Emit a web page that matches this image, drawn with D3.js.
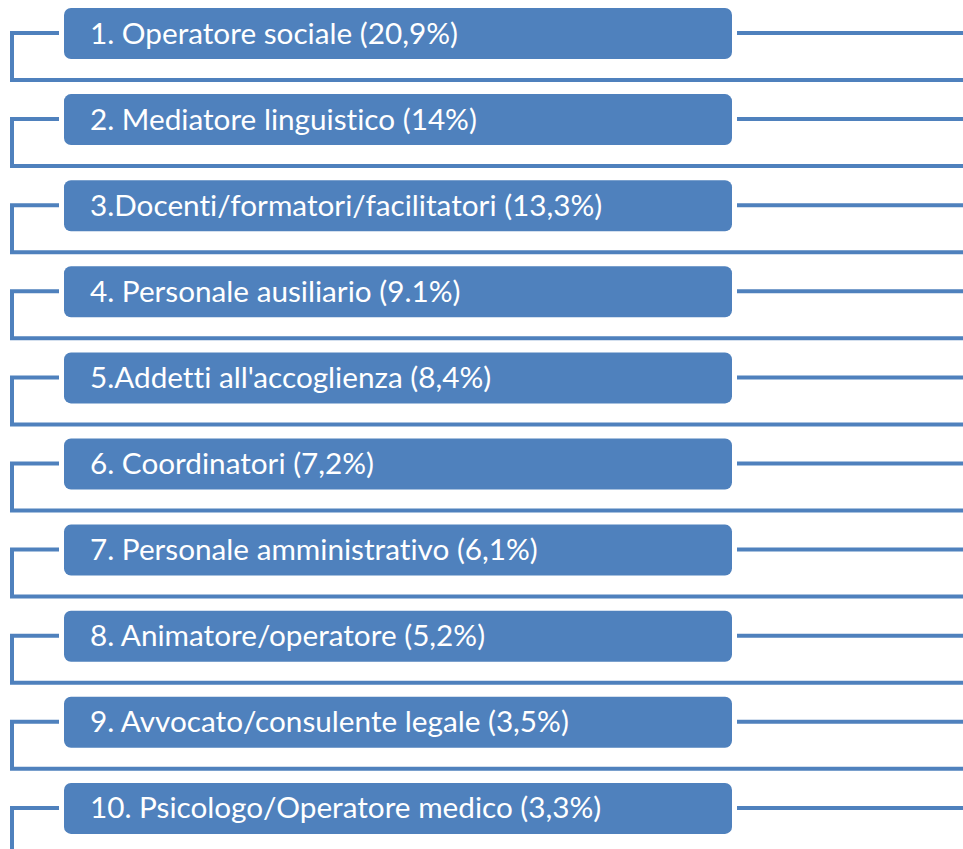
<!DOCTYPE html>
<html><head><meta charset="utf-8">
<script src="https://cdn.jsdelivr.net/npm/d3@7"></script>
<style>html,body{margin:0;padding:0;background:#fff;}svg{display:block;}</style>
</head><body>
<svg id="c" width="963" height="849"></svg>
<script>
const labels = [
  "1. Operatore sociale (20,9%)",
  "2. Mediatore linguistico (14%)",
  "3.Docenti/formatori/facilitatori (13,3%)",
  "4. Personale ausiliario (9.1%)",
  "5.Addetti all'accoglienza (8,4%)",
  "6. Coordinatori (7,2%)",
  "7. Personale amministrativo (6,1%)",
  "8. Animatore/operatore (5,2%)",
  "9. Avvocato/consulente legale (3,5%)",
  "10. Psicologo/Operatore medico (3,3%)"
];
const values = [20.9, 14, 13.3, 9.1, 8.4, 7.2, 6.1, 5.2, 3.5, 3.3];

const W = 963, H = 849, color = "#4F81BD";
const svg = d3.select("#c");
const idx = d3.range(labels.length);
const y = d3.scaleLinear().domain([0, labels.length]).range([8, 8 + 86.1 * labels.length]);
const x = d3.scaleLinear().domain([0, 1]).range([64, 732]);
const boxH = 51, sw = 4;

const g = svg.selectAll("g.row").data(idx).join("g").attr("class", "row");

// left bracket
g.append("path")
  .attr("d", i => {
    const mid = y(i) + 25;
    const bot = i < labels.length - 1 ? y(i) + 72 : H + 5;
    let p = `M${x(0) - 5},${mid} H12 V${bot}`;
    if (i < labels.length - 1) p += ` H${W + 5}`;
    return p;
  })
  .attr("fill", "none").attr("stroke", color).attr("stroke-width", sw)
  .attr("stroke-linejoin", "miter");

// right line
g.append("line")
  .attr("x1", x(1) + 5).attr("x2", W + 5)
  .attr("y1", i => y(i) + 25).attr("y2", i => y(i) + 25)
  .attr("stroke", color).attr("stroke-width", sw);

// box
g.append("rect")
  .attr("x", x(0)).attr("y", i => y(i))
  .attr("width", x(1) - x(0)).attr("height", boxH)
  .attr("rx", 7).attr("ry", 7)
  .attr("fill", color);

// text
const t = g.append("text")
  .attr("x", 90).attr("y", i => y(i) + boxH / 2 - 1.5)
  .attr("dominant-baseline", "central")
  .attr("fill", "#fff")
  .style("font-family", "Lato, 'Open Sans', sans-serif")
  .style("font-variant-ligatures", "none")
  .style("font-size", "24px")
  .text((d, i) => labels[i]);

// fit font size to reference width of first label (~368px)
const w0 = t.node().getComputedTextLength();
const fs = 24 * 368 / w0;
t.style("font-size", fs.toFixed(2) + "px");
</script>
</body></html>
